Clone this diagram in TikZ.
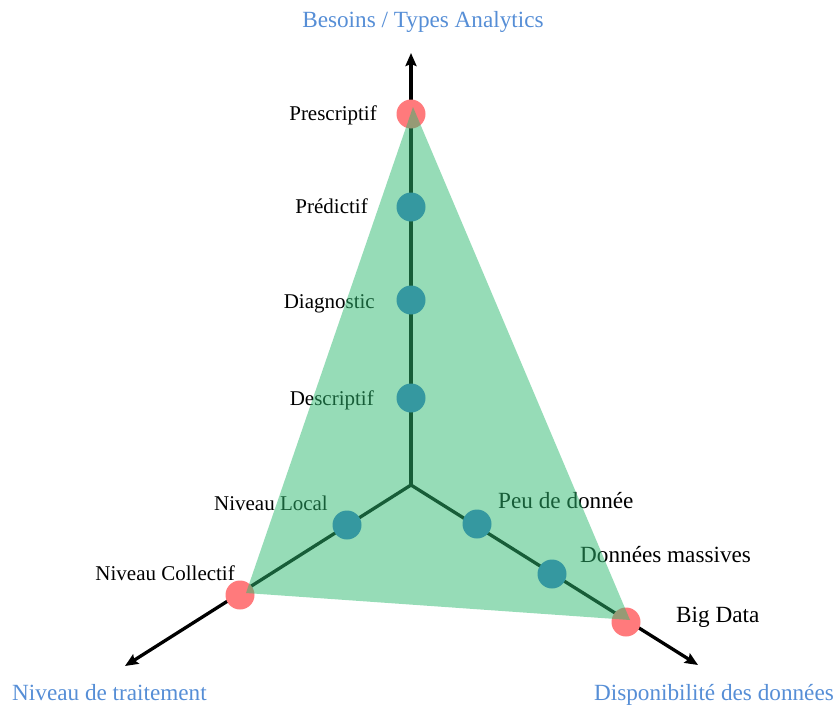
\documentclass[tikz,border=0pt]{standalone}
\usepackage{fontspec}
\setmainfont{Liberation Serif}
\usetikzlibrary{arrows.meta}
\definecolor{lblblue}{RGB}{86,142,214}
\definecolor{dotred}{RGB}{255,122,124}
\definecolor{dotteal}{RGB}{53,152,160}
\definecolor{trigreen}{RGB}{46,186,112}
\begin{document}
\begin{tikzpicture}[x=1pt,y=-1pt,
  lbl/.style={font=\fontsize{21}{25}\selectfont, text=black, inner sep=0pt},
  lblr/.style={font=\fontsize{23.2}{27}\selectfont, text=black, inner sep=0pt},
  axlbl/.style={font=\fontsize{23.2}{27}\selectfont, text=lblblue, inner sep=0pt},
  axisline/.style={line width=3.3pt, -{Stealth[length=13pt,width=11pt,inset=2pt]}},
  reddot/.style={circle, fill=dotred, minimum size=29pt, inner sep=0pt},
  tealdot/.style={circle, fill=dotteal, minimum size=29pt, inner sep=0pt},
  tri/.style={fill=trigreen, fill opacity=0.5}]
\useasboundingbox (0,0) rectangle (838,707);
% axes
\coordinate (O) at (411,485);
\coordinate (tipT) at (411,53);
\coordinate (tipL) at (125,666);
\coordinate (tipR) at (698,665);
\draw[axisline] (O) -- (tipT);
\draw[axisline] (O) -- (tipL);
\draw[axisline] (O) -- (tipR);
% red vertex dots
\node[reddot] (presc) at (411,114) {};
\node[reddot] (coll) at (240,595) {};
\node[reddot] (big) at (626,622) {};
% labels
\node[lbl, anchor=base east] (lpresc) at (377,120) {Prescriptif};
\node[lbl, anchor=base east] (lpred) at (368,213) {Prédictif};
\node[lbl, anchor=base east] (ldiag) at (375,308) {Diagnostic};
\node[lbl, anchor=base east] (ldesc) at (374,405) {Descriptif};
\node[lbl, anchor=base east] (lloc) at (328,510) {Niveau Local};
\node[lbl, anchor=base east] (lcoll) at (235,580) {Niveau Collectif};
\node[lblr, anchor=base west] (lpeu) at (498,508) {Peu de donnée};
\node[lblr, anchor=base west] (lmass) at (580,562) {Données massives};
\node[lblr, anchor=base west] (lbig) at (676,622) {Big Data};
\node[axlbl, anchor=base] (tTop) at (423,27) {Besoins / Types Analytics};
\node[axlbl, anchor=base west] (tLeft) at (12,700) {Niveau de traitement};
\node[axlbl, anchor=base east] (tRight) at (834,700) {Disponibilité des données};
% green triangle
\coordinate (vT) at (413,107);
\coordinate (vL) at (246,593);
\coordinate (vR) at (630,620);
\fill[tri] (vT) -- (vL) -- (vR) -- cycle;
% teal dots
\node[tealdot] (pred) at (411,207) {};
\node[tealdot] (diag) at (411,300) {};
\node[tealdot] (desc) at (411,398) {};
\node[tealdot] (loc) at (347,525) {};
\node[tealdot] (peu) at (477,524) {};
\node[tealdot] (mass) at (552,574) {};
\end{tikzpicture}
\end{document}
